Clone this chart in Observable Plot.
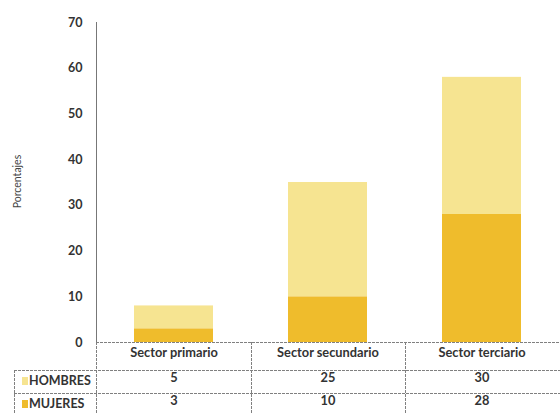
<!DOCTYPE html>
<html>
<head>
<meta charset="utf-8">
<script src="https://cdn.jsdelivr.net/npm/d3@7"></script>
<script src="https://cdn.jsdelivr.net/npm/@observablehq/plot@0.6"></script>
<style>
  html, body { margin: 0; padding: 0; background: #fff; }
  #chart svg { display: block; }
</style>
</head>
<body>
<div id="chart"></div>
<script>
const categories = ["Sector primario", "Sector secundario", "Sector terciario"];
const hombres = [5, 25, 30];
const mujeres = [3, 10, 28];
const groups = ["HOMBRES", "MUJERES"];
const groupColors = ["#f6e491", "#efbc2c"];
const yTicks = [0, 10, 20, 30, 40, 50, 60, 70];
const yLabel = "Porcentajes";

const rows = categories.flatMap((c, i) => [
  {sector: c, grupo: "MUJERES", valor: mujeres[i]},
  {sector: c, grupo: "HOMBRES", valor: hombres[i]}
]);

const font = "Lato, 'Open Sans', sans-serif";
const ink = "#333";
const tableFont = 12.8;

const chart = Plot.plot({
  width: 560,
  height: 413,
  marginTop: 22,
  marginBottom: 71,
  marginLeft: 96,
  marginRight: 0,
  style: {fontFamily: font, background: "#fff", overflow: "visible"},
  x: {domain: categories, paddingInner: 0.487, paddingOuter: 0.244, axis: null},
  y: {domain: [0, 70], axis: null},
  color: {domain: groups, range: groupColors},
  marks: [
    Plot.barY(rows, {x: "sector", y: "valor", fill: "grupo"}),
    Plot.axisY({ticks: yTicks, tickSize: 0, tickPadding: 14, label: null,
      fontSize: 12.5, fontWeight: "bold", fill: ink}),
    Plot.frame({anchor: "left", stroke: "#777"}),
    Plot.text([yLabel], {frameAnchor: "left", textAnchor: "middle", rotate: -90, dx: -79, dy: -1,
      fontSize: 10.5, fill: "#444"}),
    // table header and values
    Plot.text(categories, {x: d => d, frameAnchor: "bottom", dy: 14,
      fontSize: tableFont, fontWeight: "bold", fill: ink}),
    Plot.text(hombres, {x: (d, i) => categories[i], text: d => String(d), frameAnchor: "bottom", dy: 39,
      fontSize: tableFont, fontWeight: "bold", fill: ink}),
    Plot.text(mujeres, {x: (d, i) => categories[i], text: d => String(d), frameAnchor: "bottom", dy: 62,
      fontSize: tableFont, fontWeight: "bold", fill: ink})
  ]
});

const xs = chart.scale("x");
const ys = chart.scale("y");
const svg = d3.select(chart);
const y0 = ys.apply(0);
const left = 96, right = 560, tableLeft = 14;
const rowLines = [y0 + 28, y0 + 51];
const rowText = [y0 + 39, y0 + 62];

const centers = categories.map(c => xs.apply(c) + xs.bandwidth / 2);
const bounds = [centers[0] + xs.step / 2, centers[1] + xs.step / 2];

const g = svg.append("g").attr("stroke", "#808080").attr("stroke-width", 1).attr("stroke-dasharray", "3,1");
g.append("line").attr("x1", left).attr("x2", right).attr("y1", y0 + 0.5).attr("y2", y0 + 0.5).attr("stroke-dasharray", null);
rowLines.forEach(y => g.append("line").attr("x1", tableLeft).attr("x2", right).attr("y1", y + 0.5).attr("y2", y + 0.5));
g.append("line").attr("x1", left + 0.5).attr("x2", left + 0.5).attr("y1", y0).attr("y2", 413);
g.append("line").attr("x1", tableLeft + 0.5).attr("x2", tableLeft + 0.5).attr("y1", rowLines[0]).attr("y2", 413);
bounds.forEach(x => g.append("line").attr("x1", Math.round(x) + 0.5).attr("x2", Math.round(x) + 0.5).attr("y1", y0).attr("y2", 413));

const lab = svg.append("g").attr("font-family", font).attr("font-size", 12.5).attr("font-weight", "bold").attr("fill", ink);
groups.forEach((gname, i) => {
  lab.append("text").attr("x", 29).attr("y", rowText[i]).attr("dy", "0.35em").attr("text-anchor", "start").text(gname);
  lab.append("rect").attr("x", 22).attr("y", rowText[i] - 4).attr("width", 6).attr("height", 8)
    .attr("fill", chart.scale("color").apply(gname));
});

document.getElementById("chart").appendChild(chart);
</script>
</body>
</html>
